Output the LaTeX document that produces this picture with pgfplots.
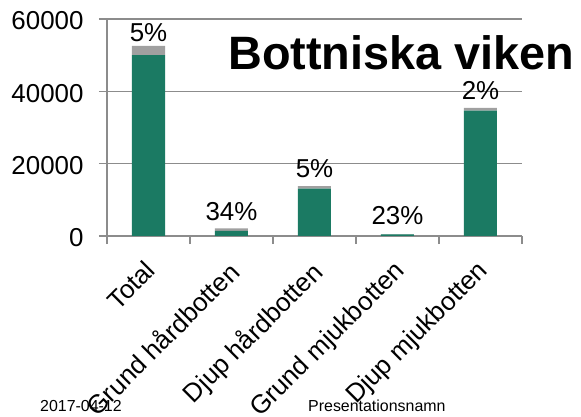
\documentclass[border=0pt]{standalone}
\usepackage{fontspec}
\setmainfont{Liberation Sans}
\usepackage{pgfplots}
\pgfplotsset{compat=1.18}
\definecolor{bargreen}{HTML}{1B7A63}
\definecolor{bargray}{HTML}{A0A0A0}
\definecolor{gridgray}{HTML}{8C8C8C}
\begin{document}
\begin{tikzpicture}
\useasboundingbox (0,0) rectangle (581bp,417bp);
\begin{axis}[
  at={(107bp,181bp)}, anchor=south west,
  scale only axis, width=415bp, height=217bp,
  xmin=-0.5, xmax=4.5, ymin=0, ymax=60000,
  ybar stacked, bar width=33bp,
  axis x line*=bottom, axis y line*=left,
  axis line style={gridgray, line width=1.3bp, -},
  ymajorgrids, grid style={gridgray, line width=1.3bp},
  ytick={0,20000,40000,60000},
  scaled y ticks=false,
  /pgf/number format/1000 sep={},
  /pgf/number format/assume math mode=true,
  yticklabel style={font=\fontsize{26}{30}\selectfont, xshift=-12bp, yshift=-2bp},
  tick align=outside,
  major tick length=8bp, minor tick length=8bp,
  tick style={gridgray, line width=1.3bp},
  xtick={0,1,2,3,4},
  major x tick style={draw=none},
  minor xtick={-0.5,0.5,1.5,2.5,3.5,4.5},
  xticklabels={Total, Grund hårdbotten, Djup hårdbotten, Grund mjukbotten, Djup mjukbotten},
  xticklabel style={rotate=45, anchor=north east, font=\fontsize{26}{30}\selectfont, inner sep=2bp, xshift=-12bp, yshift=-5bp},
  nodes near coords style={font=\fontsize{26}{30}\selectfont, anchor=south, inner sep=9bp, text=black},
]
\addplot[fill=bargreen, draw=none] coordinates {(0,50000) (1,1400) (2,13100) (3,420) (4,34700)};
\addplot[fill=bargray, draw=none, nodes near coords, point meta=explicit symbolic] coordinates {(0,2600) [5\%] (1,700) [34\%] (2,700) [5\%] (3,130) [23\%] (4,700) [2\%]};
\end{axis}
\node[anchor=base west, font=\bfseries\fontsize{47}{50}\selectfont, inner sep=0pt] at (228bp,347bp) {Bottniska viken};
\node[anchor=base west, font=\fontsize{16}{18}\selectfont, inner sep=0pt] at (40bp,5.3bp) {2017-04-12};
\node[anchor=base west, font=\fontsize{16}{18}\selectfont, inner sep=0pt] at (308bp,5.3bp) {Presentationsnamn};
\end{tikzpicture}
\end{document}
